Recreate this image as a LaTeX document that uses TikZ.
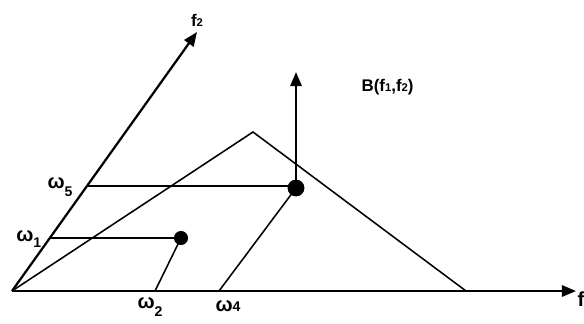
\documentclass[tikz,border=0pt]{standalone}
\usepackage{fontspec}
\setmainfont{Liberation Sans}
\usetikzlibrary{positioning, arrows.meta}

\begin{document}
\begin{tikzpicture}[
    font=\bfseries,
    >={Triangle[length=10pt, width=8pt]},
    % Styles definition
    axis/.style={->, line width=1.6pt},
    guide/.style={line width=1.1pt},
    point/.style={circle, fill=black, inner sep=0pt, minimum size=#1},
    lbl/.style={inner sep=1pt, font=\large\bfseries},
    wlbl/.style={inner sep=1pt, font=\Large\bfseries}
]
\useasboundingbox (0,0) rectangle (14.6,8.075);

% 1. Axes
\coordinate (O) at (0.3, 0.8);
\coordinate (f1end) at (14.4, 0.8);
\coordinate (f2end) at (4.925, 7.275);
\draw[axis] (O) -- (f1end);
\draw[axis] (O) -- (f2end);
\node[wlbl, anchor=west] (f1lbl) at (14.4, 0.6) {f};
\node[lbl, above=1mm of f2end] (f2lbl) {f{\footnotesize 2}};

% 2. Triangle
\coordinate (apex) at (6.325, 4.775);
\coordinate (tright) at (11.65, 0.8);
\draw[guide] (O) -- (apex) -- (tright);

% 3. Points
\node[point=12pt] (B) at (7.4, 3.375) {};
\node[point=10pt] (A) at (4.525, 2.125) {};

% w5 and w1 on the f2 axis
\coordinate (w5) at (2.15, 3.425);
\coordinate (w1) at (1.25, 2.125);
\coordinate (w2) at (3.875, 0.8);
\coordinate (w4) at (5.475, 0.8);
\coordinate (Btop) at (7.4, 6.275);

% --- Routing / Lines ---
\draw[guide] (w5) -- (B.center |- w5);
\draw[guide] (B.center) -- (w4);
\draw[axis] (B.center) -- (Btop);
\draw[guide] (w1) -- (A.center);
\draw[guide] (A.center) -- (w2);

% --- Labels ---
\node[wlbl] (w5lbl) at (1.5, 3.4) {ω\raisebox{-0.8ex}{\normalsize 5}};
\node[wlbl] (w1lbl) at (0.72, 2.1) {ω\raisebox{-0.6ex}{\normalsize 1}};
\node[wlbl] (w2lbl) at (3.75, 0.4) {ω\raisebox{-0.8ex}{\normalsize 2}};
\node[wlbl] (w4lbl) at (5.7, 0.42) {ω{\normalsize 4}};
\node[lbl, anchor=west] (Blbl) at (9.0, 5.9) {B(f{\footnotesize 1},f{\footnotesize 2})};

\end{tikzpicture}
\end{document}
